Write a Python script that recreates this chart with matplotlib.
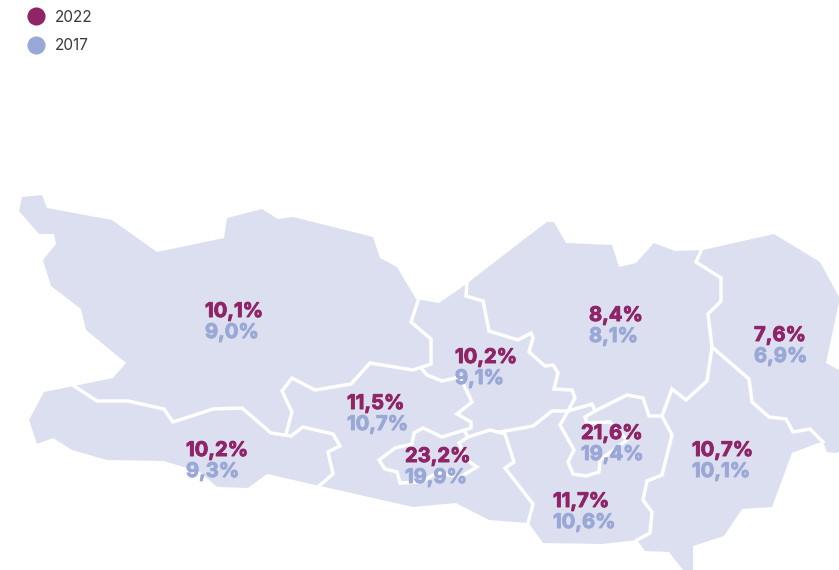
import matplotlib
matplotlib.use("Agg")
import matplotlib.pyplot as plt
import matplotlib.patheffects as pe
from matplotlib.patches import Polygon

# values per region, 2022 then 2017
VALUES_2022 = ["10,1%", "10,2%", "11,5%", "10,2%", "23,2%", "8,4%", "21,6%", "11,7%", "10,7%", "7,6%"]
VALUES_2017 = ["9,0%", "9,3%", "10,7%", "9,1%", "19,9%", "8,1%", "19,4%", "10,6%", "10,1%", "6,9%"]
LABEL_X = [205, 186, 347, 455, 405, 589, 581, 553, 692, 754]
LABEL_Y = [311, 450, 403, 357, 456, 315, 433, 501, 450, 335]
YEARS = ["2022", "2017"]

COL_2022 = "#8f2467"
COL_2017 = "#9aa8d8"
COL_MAP = "#dcdff0"

# map outline, in picture pixels
OUTLINE = [
    (22, 197), (42, 195), (47, 208), (112, 220), (157, 252), (224, 238), (227, 218),
    (262, 209), (278, 219), (293, 217), (373, 237), (380, 258), (397, 267), (416, 299),
    (439, 303), (465, 285), (527, 237), (547, 222), (554, 222), (566, 243), (612, 245),
    (619, 267), (636, 263), (654, 243), (675, 251), (703, 250), (774, 234), (820, 262),
    (839, 297), (839, 302), (826, 363), (839, 370), (839, 452), (835, 453), (827, 452),
    (823, 442), (818, 443), (792, 453), (772, 507), (742, 509), (724, 536), (693, 546),
    (693, 570), (683, 570), (669, 552), (645, 551), (637, 540), (602, 544), (543, 543),
    (530, 525), (527, 523), (489, 520), (456, 503), (413, 507), (320, 486), (267, 474),
    (248, 488), (217, 487), (200, 472), (164, 461), (107, 460), (72, 450), (53, 438),
    (37, 444), (29, 420), (44, 392), (74, 386), (113, 378), (126, 363), (86, 330),
    (81, 309), (51, 286), (43, 260), (56, 244), (54, 234), (39, 234), (19, 211),
]

# inner borders between regions
BORDERS = [
    [(74, 386), (97, 401), (128, 401), (164, 409), (173, 422), (213, 409), (242, 408),
     (271, 433), (291, 436), (303, 427), (333, 434), (340, 446), (328, 452), (333, 474), (319, 486)],
    [(286, 434), (292, 412), (282, 391), (292, 378), (315, 390), (351, 384), (370, 363),
     (413, 370), (431, 364), (431, 339), (411, 322), (418, 301)],
    [(422, 369), (427, 375), (442, 381), (460, 377), (472, 402), (457, 414), (471, 422),
     (471, 428), (442, 437), (423, 428), (414, 433), (412, 444), (395, 448), (379, 460),
     (385, 469), (397, 472), (400, 483), (420, 482), (437, 473), (460, 477), (477, 467),
     (467, 460), (459, 443), (468, 437), (490, 430), (505, 434), (514, 462), (505, 468),
     (533, 504), (528, 523)],
    [(465, 432), (468, 437)],
    [(500, 432), (533, 426), (552, 411), (568, 411), (592, 404), (595, 411), (627, 395),
     (643, 398), (649, 416), (662, 416)],
    [(568, 411), (560, 425), (574, 450), (568, 462), (573, 474), (586, 476), (599, 472),
     (600, 460), (627, 440), (610, 422), (587, 423), (585, 417), (595, 411)],
    [(467, 282), (466, 296), (483, 301), (489, 331), (518, 340), (531, 333), (533, 338),
     (529, 352), (545, 366), (553, 365), (558, 373), (554, 389), (572, 390), (575, 398), (568, 411)],
    [(662, 416), (672, 389), (686, 400), (707, 381), (712, 347), (708, 314), (721, 301),
     (721, 278), (696, 262), (701, 251)],
    [(712, 347), (749, 379), (752, 402), (769, 417), (786, 419), (793, 432), (810, 429), (823, 442)],
    [(662, 416), (672, 435), (662, 475), (647, 481), (643, 500), (652, 512), (650, 533), (637, 540)],
]

plt.rcParams["font.family"] = ["Inter", "DejaVu Sans"]

fig = plt.figure(figsize=(8.39, 5.70), dpi=100)
ax = fig.add_axes([0, 0, 1, 1])
ax.set_xlim(0, 839)
ax.set_ylim(570, 0)
ax.axis("off")

ax.add_patch(Polygon(OUTLINE, closed=True, facecolor=COL_MAP, edgecolor="none", zorder=1))
for line in BORDERS:
    xs, ys = zip(*line)
    ax.plot(xs, ys, color="white", linewidth=2.5, solid_joinstyle="miter", zorder=2)

for x, y, v22, v17 in zip(LABEL_X, LABEL_Y, VALUES_2022, VALUES_2017):
    for val, yy, col in [(v22, y + 1, COL_2022), (v17, y + 22, COL_2017)]:
        t = ax.text(x, yy, val, color=col, fontsize=14.5, fontweight="bold", va="center", ha="left", zorder=3)
        # reference type is heavier than Inter bold
        t.set_path_effects([pe.withStroke(linewidth=0.7, foreground=col)])

# legend
for year, col, y in zip(YEARS, [COL_2022, COL_2017], [16, 45]):
    ax.scatter([36], [y], s=170, color=col, linewidths=0, zorder=3)
    ax.text(55, y + 1, year, color="#3a3a3a", fontsize=11, va="center", ha="left")

fig.savefig("out.png", dpi=100)
plt.close(fig)
